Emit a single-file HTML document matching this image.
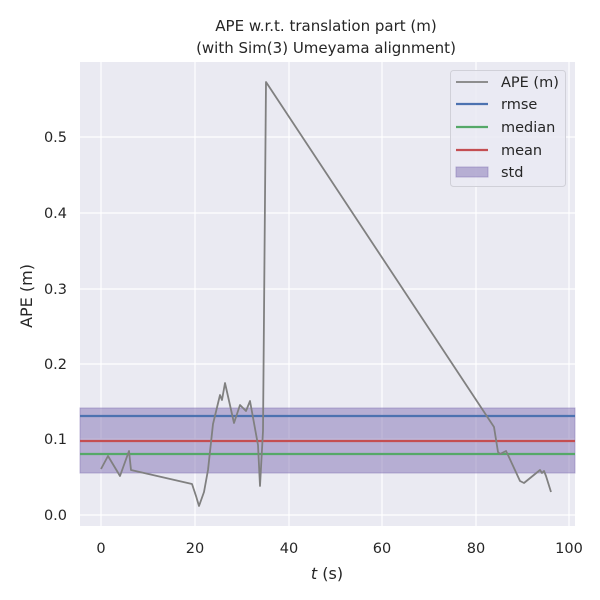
<!DOCTYPE html>
<html><head><meta charset="utf-8"><style>
body{margin:0;background:#fff}
svg{display:block;font-family:"DejaVu Sans","Liberation Sans",sans-serif}
</style></head><body>
<svg width="600" height="600" viewBox="0 0 600 600">
<rect x="0" y="0" width="600" height="600" fill="#fff"/>
<rect x="80" y="62" width="495" height="464" fill="#eaeaf2"/>
<g stroke="#fff" stroke-width="1.2">
<line x1="101" y1="62" x2="101" y2="526"/><line x1="195" y1="62" x2="195" y2="526"/>
<line x1="289" y1="62" x2="289" y2="526"/><line x1="382" y1="62" x2="382" y2="526"/>
<line x1="476" y1="62" x2="476" y2="526"/><line x1="569" y1="62" x2="569" y2="526"/>
<line x1="80" y1="515" x2="575" y2="515"/><line x1="80" y1="439" x2="575" y2="439"/>
<line x1="80" y1="364" x2="575" y2="364"/><line x1="80" y1="289" x2="575" y2="289"/>
<line x1="80" y1="213" x2="575" y2="213"/><line x1="80" y1="137" x2="575" y2="137"/>
</g>
<rect x="80" y="408" width="495" height="65" fill="#8172b3" fill-opacity="0.5" stroke="#8172b3" stroke-opacity="0.5"/>
<line x1="80" y1="416" x2="575" y2="416" stroke="#4c72b0" stroke-width="2.2"/>
<line x1="80" y1="441" x2="575" y2="441" stroke="#c44e52" stroke-width="2.2"/>
<line x1="80" y1="454" x2="575" y2="454" stroke="#55a868" stroke-width="2.2"/>
<polyline fill="none" stroke="#808080" stroke-width="1.8" stroke-linejoin="round" points="101,469 108,456 120,476 129,451 131,470 192,484 196,496 199,506 204,492 208,470 213,424 220,395 222,400 225,383 234,423 240,405 246,411 250,401 258,445 260,486 263,431 266,82 494,427 498,452 500,454 506,451 508,455 520,481 524,483 540,470 542,473 544,471 546,476 551,492"/>
<g font-size="14.5" fill="#262626" text-anchor="middle">
<text x="101" y="553">0</text><text x="195" y="553">20</text><text x="289" y="553">40</text>
<text x="382" y="553">60</text><text x="476" y="553">80</text><text x="569" y="553">100</text>
</g>
<g font-size="14.5" fill="#262626" text-anchor="end">
<text x="67" y="520">0.0</text><text x="67" y="444">0.1</text><text x="67" y="369">0.2</text>
<text x="67" y="294">0.3</text><text x="67" y="218">0.4</text><text x="67" y="142">0.5</text>
</g>
<text x="327" y="579" font-size="16" fill="#262626" text-anchor="middle"><tspan font-style="italic">t</tspan> (s)</text>
<text transform="translate(32,296) rotate(-90)" font-size="16" fill="#262626" text-anchor="middle">APE (m)</text>
<text x="326" y="31" font-size="15" fill="#262626" text-anchor="middle">APE w.r.t. translation part (m)</text>
<text x="326" y="53" font-size="15" fill="#262626" text-anchor="middle">(with Sim(3) Umeyama alignment)</text>
<rect x="450.5" y="70.5" width="115" height="116" rx="3" fill="#eaeaf2" fill-opacity="0.8" stroke="#d0d0d8"/>
<line x1="456" y1="82" x2="488" y2="82" stroke="#808080" stroke-width="1.8"/>
<line x1="456" y1="104" x2="488" y2="104" stroke="#4c72b0" stroke-width="2.2"/>
<line x1="456" y1="127" x2="488" y2="127" stroke="#55a868" stroke-width="2.2"/>
<line x1="456" y1="150" x2="488" y2="150" stroke="#c44e52" stroke-width="2.2"/>
<rect x="456" y="167" width="32" height="10" fill="#8172b3" fill-opacity="0.5" stroke="#8172b3" stroke-opacity="0.5"/>
<g font-size="14.5" fill="#262626">
<text x="501" y="87">APE (m)</text><text x="501" y="109">rmse</text>
<text x="501" y="132">median</text><text x="501" y="155">mean</text><text x="501" y="177">std</text>
</g>
</svg>
</body></html>
